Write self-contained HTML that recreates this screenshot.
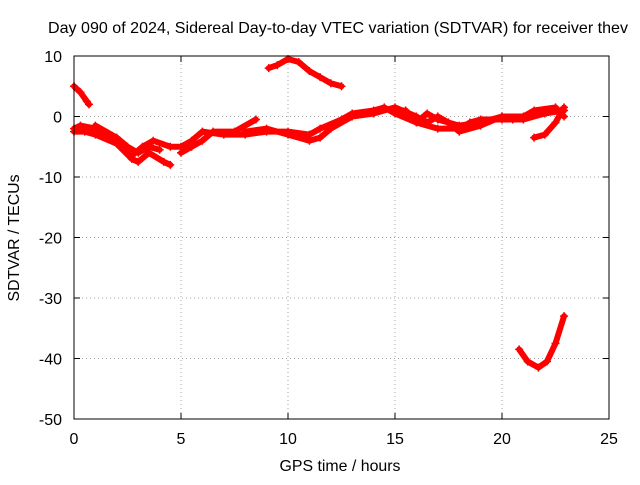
<!DOCTYPE html>
<html><head><meta charset="utf-8"><style>
html,body{margin:0;padding:0;background:#fff}
text{font-family:"Liberation Sans",sans-serif;font-size:16px;fill:#000}
</style></head><body>
<svg id="chart" width="640" height="480" xmlns="http://www.w3.org/2000/svg">
<rect width="640" height="480" fill="#fff"/>
<text x="48" y="33" textLength="580" lengthAdjust="spacingAndGlyphs">Day 090 of 2024, Sidereal Day-to-day VTEC variation (SDTVAR) for receiver thev</text>
<g id="grid"></g>
<g id="ticks"></g>
<g id="series"></g>
<rect x="74" y="56" width="535" height="363" fill="none" stroke="#000" stroke-width="1"/>
<text x="340" y="471" text-anchor="middle" textLength="121" lengthAdjust="spacingAndGlyphs">GPS time / hours</text>
<text transform="translate(19,238) rotate(-90)" text-anchor="middle" textLength="127" lengthAdjust="spacingAndGlyphs">SDTVAR / TECUs</text>
</svg>
<script>
const xTicks=[0,5,10,15,20,25];
const yTicks=[10,0,-10,-20,-30,-40,-50];
const trackA=[[0,5],[0.3,4],[0.6,2.5],[0.7,2]];
const trackB=[[9.1,8],[9.5,8.5],[10,9.5],[10.5,9],[11,7.5],[11.5,6.5],[12,5.5],[12.5,5]];
const trackC=[[20.8,-38.5],[21.2,-40.5],[21.7,-41.5],[22.1,-40.5],[22.5,-37.5],[22.9,-33]];
const trackD=[[0,-2],[0.3,-1.5],[1,-2],[2,-4],[2.7,-6.5],[3.2,-5],[3.7,-4],[4.5,-5],[5,-5],[5.5,-4],[6,-2.5],[7,-3],[8,-3],[9,-2.5],[10,-2.5],[11,-3],[11.5,-2],[12.5,-0.5],[13,0.5],[14,1],[14.5,1.5],[15,0.5],[16,-1],[17,-2],[18,-2],[18.5,-1],[19,-0.5],[20,-0.5],[21,-0.5],[22,0.5],[22.9,1]];
const trackE=[[0,-2.5],[0.5,-2.5],[1,-3],[2,-4.5],[2.7,-7],[3,-7.5],[3.5,-6],[4.2,-7.5],[4.5,-8]];
const trackF=[[1,-1.5],[2,-3.5],[2.5,-5],[3,-6],[3.5,-5],[4,-5.5]];
const trackG=[[5,-6],[5.5,-5],[6,-4],[6.5,-2.5],[7.5,-2.5],[8.5,-0.5]];
const trackH=[[8,-2.5],[9,-2],[10,-3],[11,-4],[11.5,-3.5],[12,-2],[13,0],[14,0.5],[15,1.5],[16,0],[16.5,-1],[17,0],[17.5,-1],[18,-2.5],[19,-1.5],[20,0],[20.5,-0.5]];
const trackI=[[15,1],[15.5,1],[16,-1],[16.5,0.5],[17,-0.5],[18,-1.5],[19,-1],[20,0],[21,0],[21.5,1],[22.5,1.5],[22.9,0]];
const trackJ=[[21.5,-3.5],[22,-3],[22.5,-1],[22.9,1.5]];
const tracks=[trackA,trackB,trackC,trackD,trackE,trackF,trackG,trackH,trackI,trackJ];
const NS="http://www.w3.org/2000/svg";
const X0=74,X1=609,Y0=419,Y1=56;
function sx(v){return X0+(v-0)/(25-0)*(X1-X0);}
function sy(v){return Y0-(v+50)/(60)*(Y0-Y1);}
function mk(tag,attrs,parent){const e=document.createElementNS(NS,tag);for(const k in attrs)e.setAttribute(k,attrs[k]);parent.appendChild(e);return e;}
const grid=document.getElementById('grid'),ticks=document.getElementById('ticks'),series=document.getElementById('series');
xTicks.forEach(t=>{
  const x=sx(t);
  if(t>0&&t<25){const g=mk('line',{x1:x,x2:x,y1:Y1,y2:Y0,stroke:'#a0a0a0','stroke-dasharray':'1,3'},grid);
  
  }
  mk('line',{x1:x,x2:x,y1:Y0,y2:Y0-6,stroke:'#000'},ticks);
  mk('line',{x1:x,x2:x,y1:Y1,y2:Y1+6,stroke:'#000'},ticks);
  const l=mk('text',{x:x,y:444,'text-anchor':'middle'},ticks);l.textContent=t;
  
  
});
yTicks.forEach(t=>{
  const y=sy(t);
  if(t>-50&&t<10){const g=mk('line',{x1:X0,x2:X1,y1:y,y2:y,stroke:'#a0a0a0','stroke-dasharray':'1,3'},grid);
  
  }
  mk('line',{x1:X0,x2:X0+6,y1:y,y2:y,stroke:'#000'},ticks);
  mk('line',{x1:X1,x2:X1-6,y1:y,y2:y,stroke:'#000'},ticks);
  const l=mk('text',{x:62,y:y+6,'text-anchor':'end'},ticks);l.textContent=t;
  
  
});
tracks.forEach(tr=>{
  const p=mk('polyline',{points:tr.map(d=>sx(d[0])+','+sy(d[1])).join(' '),fill:'none',stroke:'#ff0000','stroke-width':6,'stroke-linejoin':'round','stroke-linecap':'round'},series);
  
  
  tr.forEach(d=>{
    const x=sx(d[0]),y=sy(d[1]);
    const m=mk('path',{d:`M${x-4},${y}H${x+4}M${x},${y-4}V${y+4}`,stroke:'#ff0000','stroke-width':1.5},series);
    
    
  });
});
</script>
</body></html>
